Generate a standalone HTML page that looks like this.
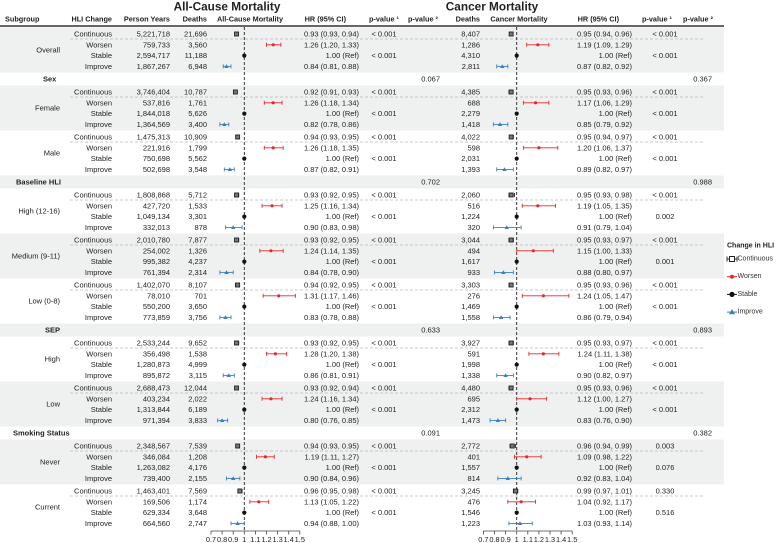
<!DOCTYPE html>
<html><head><meta charset="utf-8"><style>
html,body{margin:0;padding:0;background:#fff;}
svg{display:block;font-family:"Liberation Sans",Arial,sans-serif;}
</style></head><body>
<svg id="chart" width="777" height="543" viewBox="0 0 777 543" xmlns="http://www.w3.org/2000/svg"></svg>
<script>
const groupNames = ["Overall","Sex","Female","Male","Baseline HLI","High (12-16)","Medium (9-11)","Low (0-8)","SEP","High","Low","Smoking Status","Never","Current"];
const groupIsHeader = [false,true,false,false,true,false,false,false,true,false,false,true,false,false];
const headerP2All = {"Sex":"0.067","Baseline HLI":"0.702","SEP":"0.633","Smoking Status":"0.091"};
const headerP2Can = {"Sex":"0.367","Baseline HLI":"0.988","SEP":"0.893","Smoking Status":"0.382"};
const changes = ["Continuous","Worsen","Stable","Improve"];
const personYears = [
 ["5,221,718","759,733","2,594,717","1,867,267"],
 ["3,746,404","537,816","1,844,018","1,364,569"],
 ["1,475,313","221,916","750,698","502,698"],
 ["1,808,868","427,720","1,049,134","332,013"],
 ["2,010,780","254,002","995,382","761,394"],
 ["1,402,070","78,010","550,200","773,859"],
 ["2,533,244","356,498","1,280,873","895,872"],
 ["2,688,473","403,234","1,313,844","971,394"],
 ["2,348,567","346,084","1,263,082","739,400"],
 ["1,463,401","169,506","629,334","664,560"]];
const deathsAll = [
 ["21,696","3,560","11,188","6,948"],["10,787","1,761","5,626","3,400"],["10,909","1,799","5,562","3,548"],
 ["5,712","1,533","3,301","878"],["7,877","1,326","4,237","2,314"],["8,107","701","3,650","3,756"],
 ["9,652","1,538","4,999","3,115"],["12,044","2,022","6,189","3,833"],["7,539","1,208","4,176","2,155"],["7,569","1,174","3,648","2,747"]];
const hrAll = [
 [[0.93,0.93,0.94],[1.26,1.20,1.33],[1,1,1],[0.84,0.81,0.88]],
 [[0.92,0.91,0.93],[1.26,1.18,1.34],[1,1,1],[0.82,0.78,0.86]],
 [[0.94,0.93,0.95],[1.26,1.18,1.35],[1,1,1],[0.87,0.82,0.91]],
 [[0.93,0.92,0.95],[1.25,1.16,1.34],[1,1,1],[0.90,0.83,0.98]],
 [[0.93,0.92,0.95],[1.24,1.14,1.35],[1,1,1],[0.84,0.78,0.90]],
 [[0.94,0.92,0.95],[1.31,1.17,1.46],[1,1,1],[0.83,0.78,0.88]],
 [[0.93,0.92,0.95],[1.28,1.20,1.38],[1,1,1],[0.86,0.81,0.91]],
 [[0.93,0.92,0.94],[1.24,1.16,1.34],[1,1,1],[0.80,0.76,0.85]],
 [[0.94,0.93,0.95],[1.19,1.11,1.27],[1,1,1],[0.90,0.84,0.96]],
 [[0.96,0.95,0.98],[1.13,1.05,1.22],[1,1,1],[0.94,0.88,1.00]]];
const p1All = [["< 0.001","< 0.001"],["< 0.001","< 0.001"],["< 0.001","< 0.001"],["< 0.001","< 0.001"],["< 0.001","< 0.001"],["< 0.001","< 0.001"],["< 0.001","< 0.001"],["< 0.001","< 0.001"],["< 0.001","< 0.001"],["< 0.001","< 0.001"]];
const deathsCan = [
 ["8,407","1,286","4,310","2,811"],["4,385","688","2,279","1,418"],["4,022","598","2,031","1,393"],
 ["2,060","516","1,224","320"],["3,044","494","1,617","933"],["3,303","276","1,469","1,558"],
 ["3,927","591","1,998","1,338"],["4,480","695","2,312","1,473"],["2,772","401","1,557","814"],["3,245","476","1,546","1,223"]];
const hrCan = [
 [[0.95,0.94,0.96],[1.19,1.09,1.29],[1,1,1],[0.87,0.82,0.92]],
 [[0.95,0.93,0.96],[1.17,1.06,1.29],[1,1,1],[0.85,0.79,0.92]],
 [[0.95,0.94,0.97],[1.20,1.06,1.37],[1,1,1],[0.89,0.82,0.97]],
 [[0.95,0.93,0.98],[1.19,1.05,1.35],[1,1,1],[0.91,0.79,1.04]],
 [[0.95,0.93,0.97],[1.15,1.00,1.33],[1,1,1],[0.88,0.80,0.97]],
 [[0.95,0.93,0.96],[1.24,1.05,1.47],[1,1,1],[0.86,0.79,0.94]],
 [[0.95,0.93,0.97],[1.24,1.11,1.38],[1,1,1],[0.90,0.82,0.97]],
 [[0.95,0.93,0.96],[1.12,1.00,1.27],[1,1,1],[0.83,0.76,0.90]],
 [[0.96,0.94,0.99],[1.09,0.98,1.22],[1,1,1],[0.92,0.83,1.04]],
 [[0.99,0.97,1.01],[1.04,0.92,1.17],[1,1,1],[1.03,0.93,1.14]]];
const p1Can = [["< 0.001","< 0.001"],["< 0.001","< 0.001"],["< 0.001","< 0.001"],["< 0.001","0.002"],["< 0.001","0.001"],["< 0.001","< 0.001"],["< 0.001","< 0.001"],["< 0.001","< 0.001"],["0.003","0.076"],["0.330","0.516"]];
const tickVals = [0.7,0.8,0.9,1,1.1,1.2,1.3,1.4,1.5];
const tickLabels = ["0.7","0.8","0.9","1","1.1","1.2","1.3","1.4","1.5"];

const NS="http://www.w3.org/2000/svg";
const svg=document.getElementById('chart');
const FS=7.5;
function mk(tag,attrs,parent){const e=document.createElementNS(NS,tag);for(const k in attrs)e.setAttribute(k,attrs[k]);(parent||svg).appendChild(e);return e;}
function txt(x,y,s,anchor,opts){opts=opts||{};const t=mk('text',{x:x,y:y,'text-anchor':anchor||'start','font-size':opts.size||FS,'font-weight':opts.bold?'bold':'normal',fill:opts.fill||'#222','dominant-baseline':'central'});t.textContent=s;return t;}
const xAll=v=>244.3+(v-1)*111;
const xCan=v=>516.7+(v-1)*111;
const colors={Continuous:'#333',Worsen:'#e8262b',Stable:'#111',Improve:'#3a7fc1'};

let t=txt(227,6.5,"All-Cause Mortality",'middle',{bold:true,size:11.8});

t=txt(492,6.5,"Cancer Mortality",'middle',{bold:true,size:11.8});

const hdrs=[["Subgroup",5,'start'],["HLI Change",112,'end'],["Person Years",170,'end'],["Deaths",207,'end'],["All-Cause Mortality",250,'middle'],["HR (95% CI)",346,'end'],["p-value ¹",384,'middle'],["p-value ²",423,'middle'],["Deaths",480,'end'],["Cancer Mortality",519,'middle'],["HR (95% CI)",619,'end'],["p-value ¹",657,'middle'],["p-value ²",698,'middle']];
hdrs.forEach(h=>{const e=txt(h[1],19,h[0],h[2],{bold:true,size:7.3});

});

let y=27.5, gi=0;
const bandG=mk('g',{});

const markG=mk('g',{});
groupNames.forEach((name,i)=>{
  const h=groupIsHeader[i]?13:45;
  if(i%2===0){const r=mk('rect',{x:0,y:y,width:724,height:h,fill:'#eef1f0'},bandG);
    }
  if(groupIsHeader[i]){
    const hx={"Sex":43,"Baseline HLI":16,"SEP":45,"Smoking Status":13}[name];
    let e=txt(hx,y+6.5,name,'start',{bold:true});
    
    e=txt(440,y+6.5,headerP2All[name],'end');
    
    e=txt(712,y+6.5,headerP2Can[name],'end');
    
  } else {
    const g=gi;
    let e=txt(60,y+22.5,name,'end');
    
    const dl=mk('line',{x1:70,x2:705,y1:y+11.5,y2:y+11.5,stroke:'#bbb','stroke-width':0.7,'stroke-dasharray':'3,2'});
    
    changes.forEach((c,k)=>{
      const ry=y+6.5+k*10.8;
      let e=txt(112,ry,c,'end');
      e=txt(170,ry,personYears[g][k],'end');
      e=txt(207,ry,deathsAll[g][k],'end');
      e=txt(480,ry,deathsCan[g][k],'end');
      [[hrAll,xAll,359,p1All,384],[hrCan,xCan,632,p1Can,665]].forEach(([hr,sx,hrx,p1,px],pi)=>{
        const v=hr[g][k];
        const s=c==="Stable"?"1.00 (Ref)":v[0].toFixed(2)+" ("+v[1].toFixed(2)+", "+v[2].toFixed(2)+")";
        let e=txt(hrx,ry,s,'end');
        if(k===0||k===2){e=txt(px,ry,p1[g][k===0?0:1],'middle');}
        const col=colors[c];
        const mg=mk('g',{},markG);
        
        
        if(c!=="Stable"){
          mk('line',{x1:sx(v[1]),x2:sx(v[2]),y1:ry,y2:ry,stroke:col,'stroke-width':0.9},mg);
          mk('line',{x1:sx(v[1]),x2:sx(v[1]),y1:ry-2,y2:ry+2,stroke:col,'stroke-width':0.9},mg);
          mk('line',{x1:sx(v[2]),x2:sx(v[2]),y1:ry-2,y2:ry+2,stroke:col,'stroke-width':0.9},mg);
        }
        const cx=sx(v[0]);
        if(c==="Continuous") mk('rect',{x:cx-2,y:ry-2,width:4,height:4,fill:'#777',stroke:'#222','stroke-width':0.9},mg);
        else if(c==="Worsen") mk('circle',{cx:cx,cy:ry,r:1.6,fill:col},mg);
        else if(c==="Stable") mk('circle',{cx:cx,cy:ry,r:2.1,fill:col},mg);
        else mk('polygon',{points:(cx-2.2)+","+(ry+1.6)+" "+(cx+2.2)+","+(ry+1.6)+" "+cx+","+(ry-2.2),fill:col},mg);
      });
    });
    gi++;
  }
  y+=h;
});
const hl=mk('line',{x1:0,x2:724,y1:26,y2:26,stroke:'#333','stroke-width':1.6});

[[xAll,'all'],[xCan,'cancer']].forEach(([sx,nm])=>{
  const rl=mk('line',{x1:sx(1),x2:sx(1),y1:27,y2:531,stroke:'#222','stroke-width':0.9,'stroke-dasharray':'3,2'});
  
  const ag=mk('g',{});
  
  mk('line',{x1:sx(tickVals[0]),x2:sx(tickVals[tickVals.length-1]),y1:531,y2:531,stroke:'#444','stroke-width':0.8},ag);
  tickVals.forEach((v,i)=>{
    mk('line',{x1:sx(v),x2:sx(v),y1:531,y2:534.5,stroke:'#444','stroke-width':0.8},ag);
    const e=txt(sx(v),539.5,tickLabels[i],'middle',{size:7.4});ag.appendChild(e);
  });
});
svg.appendChild(markG);
const lg=mk('g',{});

lg.appendChild(txt(727,246,"Change in HLI",'start',{bold:true,size:7}));
changes.forEach((c,k)=>{
  const ly=259+k*17.7, col=colors[c];
  const eg=mk('g',{},lg);
  
  mk('line',{x1:727,x2:737,y1:ly,y2:ly,stroke:col,'stroke-width':1},eg);
  if(c==="Continuous"){mk('line',{x1:727,x2:727,y1:ly-2.5,y2:ly+2.5,stroke:col},eg);mk('line',{x1:737,x2:737,y1:ly-2.5,y2:ly+2.5,stroke:col},eg);mk('rect',{x:729.5,y:ly-2.5,width:5,height:5,fill:'#fff',stroke:'#222'},eg);}
  else if(c==="Improve") mk('polygon',{points:"729,"+(ly+2.2)+" 735,"+(ly+2.2)+" 732,"+(ly-3),fill:col},eg);
  else mk('circle',{cx:732,cy:ly,r:c==="Stable"?2.6:2,fill:col},eg);
  eg.appendChild(txt(737.5,ly,c,'start',{size:7,fill:'#333'}));
});
</script>
</body></html>
